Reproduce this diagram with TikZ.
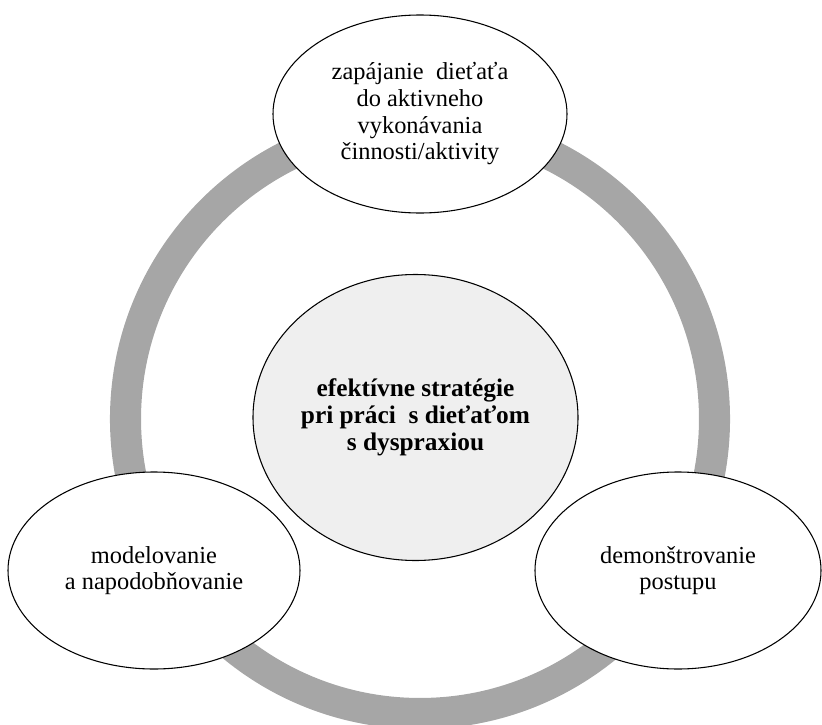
\documentclass[tikz,border=0pt]{standalone}
\usepackage{fontspec}
\setmainfont{Liberation Serif}
\usetikzlibrary{shapes.geometric}
\definecolor{ringgray}{HTML}{A6A6A6}
\definecolor{centerfill}{HTML}{EFEFEF}
\tikzset{
  txt/.style={align=center, font=\fontsize{18.3}{20}\selectfont},
  oval/.style={ellipse, draw=black, line width=0.8pt, inner sep=0pt, outer sep=0pt, txt},
  outeroval/.style={oval, fill=white},
  centeroval/.style={oval, fill=centerfill, font=\fontsize{19}{20.3}\selectfont\bfseries},
  ringline/.style={draw=ringgray, line width=23.3pt}
}
\begin{document}
\begin{tikzpicture}[x=0.75pt, y=-0.75pt]
\useasboundingbox (0,0) rectangle (822,725);
\coordinate (ringc) at (420,419);
\draw[ringline] (ringc) circle [radius=294.5];
\node[centeroval, minimum width=325*0.75pt, minimum height=286*0.75pt] (center) at (415.5,417.5)
  {efektívne stratégie\\pri práci\ \ s dieťaťom\\s dyspraxiou};
\node[outeroval, minimum width=294*0.75pt, minimum height=198*0.75pt] (top) at (420,114)
  {zapájanie\ \ dieťaťa\\do aktivneho\\vykonávania\\činnosti/aktivity};
\node[outeroval, minimum width=292*0.75pt, minimum height=197*0.75pt] (left) at (154,570.5)
  {modelovanie\\a napodobňovanie};
\node[outeroval, minimum width=286*0.75pt, minimum height=197*0.75pt] (right) at (678,570.5)
  {demonštrovanie\\postupu};
\end{tikzpicture}
\end{document}
